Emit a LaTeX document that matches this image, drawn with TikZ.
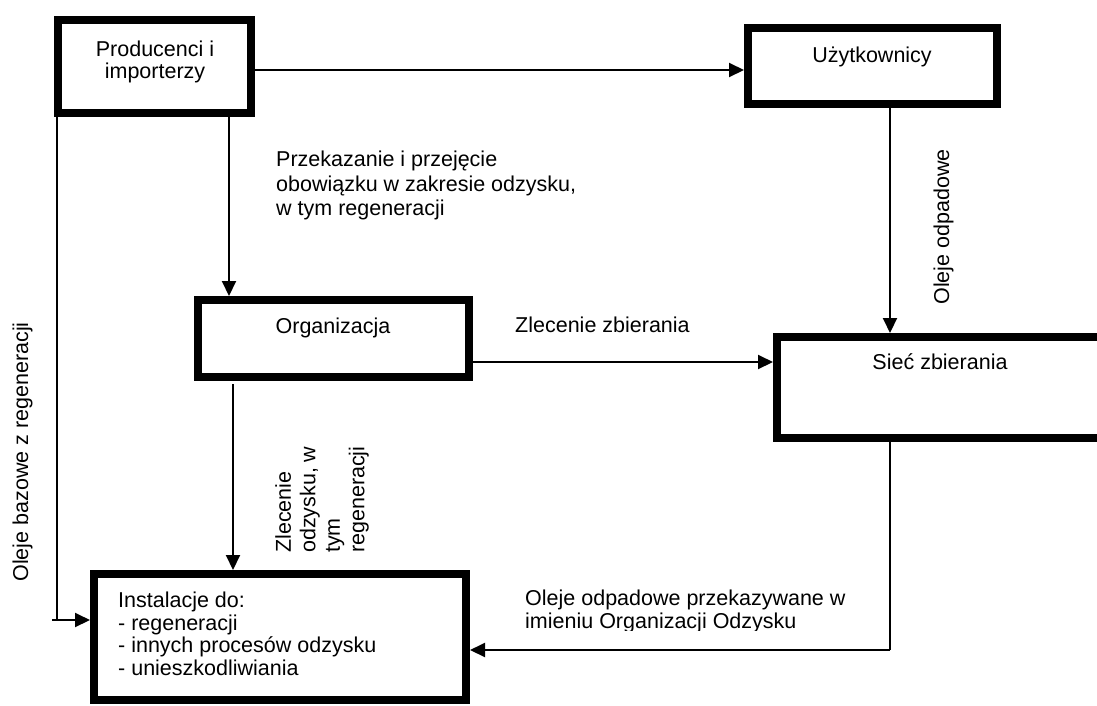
\documentclass[tikz,border=0pt]{standalone}
\usepackage{fontspec}
\setmainfont{Liberation Sans}
\usetikzlibrary{arrows.meta}
\begin{document}
\begin{tikzpicture}[x=1pt,y=-1pt,
  box/.style={draw,line width=8pt,inner sep=0pt},
  line/.style={line width=2pt},
  conn/.style={line width=2pt,-{Triangle[length=15pt,width=14pt]}},
  txt/.style={font=\fontsize{21.5}{22.5}\selectfont,inner sep=0pt,align=left}]
\useasboundingbox (0,0) rectangle (1097,705);
% boxes
\node[box,minimum width=193pt,minimum height=93pt] (p) at (154.5,66.5) {};
\node[box,minimum width=249pt,minimum height=76pt] (u) at (872.5,66) {};
\node[box,minimum width=271pt,minimum height=77pt] (o) at (333.5,338.5) {};
\node[box,minimum width=326pt,minimum height=101pt] (s) at (940,387.5) {};
\node[box,minimum width=372pt,minimum height=126pt] (i) at (280,637) {};
% box texts
\node[txt,align=center,anchor=north] (pt) at (155,40.5) {Producenci i\\importerzy};
\node[txt,anchor=base] (ut) at (872,62) {Użytkownicy};
\node[txt,anchor=base] (ot) at (333,333) {Organizacja};
\node[txt,anchor=base] (st) at (940,369) {Sieć zbierania};
\node[txt,anchor=north west] (it) at (118,592) {Instalacje do:\\- regeneracji\\- innych procesów odzysku\\- unieszkodliwiania};
% connector labels
\node[txt,anchor=north west,font=\fontsize{21.5}{24.5}\selectfont] (l1) at (276,151) {Przekazanie i przejęcie\\obowiązku w zakresie odzysku,\\w tym regeneracji};
\node[txt,anchor=base west] (l2) at (515,332) {Zlecenie zbierania};
\node[txt,anchor=base,rotate=90] (l3) at (949,227) {Oleje odpadowe};
\node[txt,anchor=base,rotate=90] (l4) at (28,452) {Oleje bazowe z regeneracji};
\node[txt,anchor=north west,rotate=90,font=\fontsize{21.5}{24.5}\selectfont] (l5) at (275,553) {Zlecenie\\odzysku, w\\tym\\regeneracji};
\begin{scope}
\clip (500,570) rectangle (900,630);
\node[txt,anchor=north west] (l6) at (525,590) {Oleje odpadowe przekazywane w\\imieniu Organizacji Odzysku};
\end{scope}
% connectors
\coordinate (bl) at (57,620);
\coordinate (bs) at (52,620);
\coordinate (br) at (890,650);
\draw[conn] (p.east |- 0,70) -- (u.west |- 0,70);
\draw[conn] (p.south -| 229,0) -- (o.north -| 229,0);
\draw[line] (p.south -| 57,0) -- (bl);
\draw[conn] (bs) -- (i.west |- bs);
\draw[conn] (u.south -| 890,0) -- (s.north -| 890,0);
\draw[conn] (o.east |- 0,362) -- (s.west |- 0,362);
\draw[conn] ([yshift=-3pt]o.south -| 233,0) -- (i.north -| 233,0);
\draw[line] (s.south -| 890,0) -- (br);
\draw[conn] (br) -- (i.east |- br);
\end{tikzpicture}
\end{document}
